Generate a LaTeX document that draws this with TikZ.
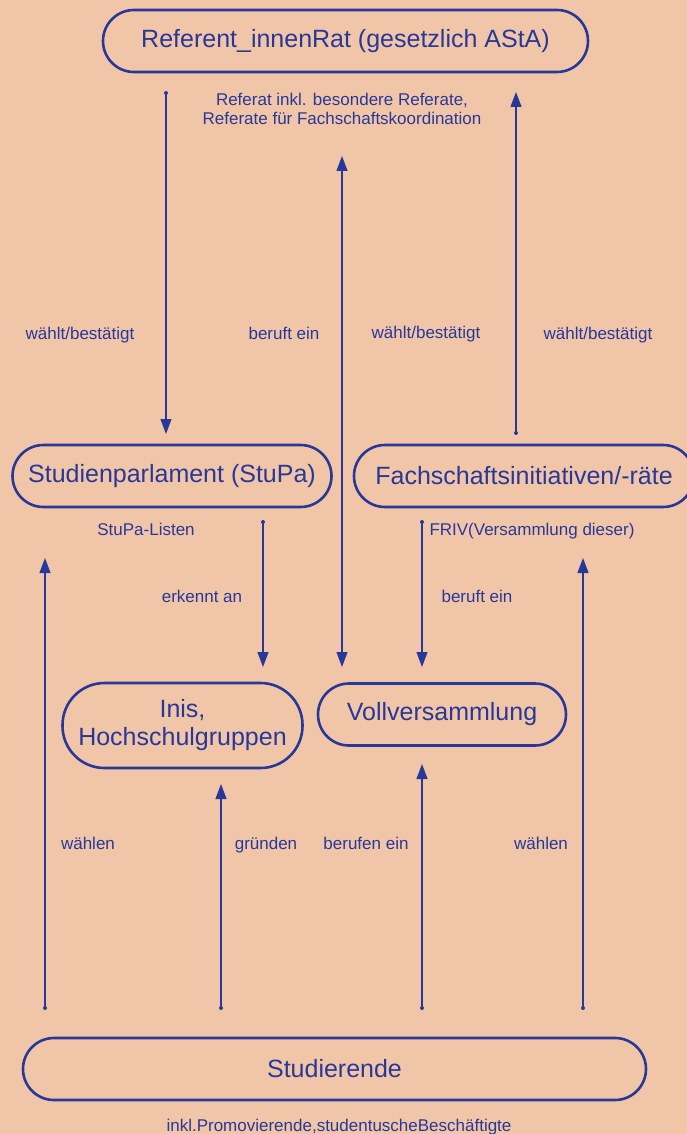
\documentclass[tikz,border=0pt]{standalone}
\usepackage{fontspec}
\setmainfont{Liberation Sans}
\usetikzlibrary{arrows.meta}
\definecolor{bg}{RGB}{241,198,168}
\definecolor{ink}{RGB}{40,56,152}
\begin{document}
\begin{tikzpicture}[x=1pt,y=-1pt,
  box/.style={draw=ink, line width=2.6pt, rounded corners=31pt, minimum height=62pt, inner sep=0pt, text=ink, font=\fontsize{25}{28}\selectfont, align=center},
  lbl/.style={text=ink, font=\fontsize{17}{19}\selectfont, align=center, inner sep=0pt},
  one/.style={lbl, text height=12.3pt, text depth=3.6pt, yshift=-2pt},
  link/.style={draw=ink, line width=1.2pt, -{Triangle[length=15pt,width=11pt]}},
  dblink/.style={draw=ink, line width=1.2pt, {Triangle[length=15pt,width=11pt]}-{Triangle[length=15pt,width=11pt]}},
  dotmark/.style={fill=ink, circle, inner sep=0pt, minimum size=4pt}]
\fill[bg] (0,0) rectangle (687,1134);
\useasboundingbox (0,0) rectangle (687,1134);
\clip (0,0) rectangle (687,1134);

% boxes
\node[box, minimum width=485pt] (rat) at (345.5,41) {Referent\_innenRat (gesetzlich AStA)};
\node[box, minimum width=319pt] (stupa) at (172,476) {Studienparlament (StuPa)};
\node[box, minimum width=340pt] (fach) at (524,476) {Fachschaftsinitiativen/-räte};
\node[box, minimum width=240pt, minimum height=85pt, rounded corners=42pt] (inis) at (182.5,725.5) {Inis,\\Hochschulgruppen};
\node[box, minimum width=248pt] (vv) at (442,714.5) {Vollversammlung};
\node[box, minimum width=623pt] (stud) at (334.5,1069) {Studierende};

% labels
\node[lbl] (lref) at (342,108.5) {Referat inkl. besondere Referate,\\Referate für Fachschaftskoordination};
\node[one] (l1) at (80,333) {wählt/bestätigt};
\node[one] (l2) at (284,333) {beruft ein};
\node[one] (l3) at (426,332) {wählt/bestätigt};
\node[one] (l4) at (598,333) {wählt/bestätigt};
\node[one] (llist) at (146,529) {StuPa-Listen};
\node[one] (lfriv) at (532,529) {FRIV(Versammlung dieser)};
\node[one] (l5) at (202,596) {erkennt an};
\node[one] (l6) at (477,596) {beruft ein};
\node[one] (l7) at (88,843) {wählen};
\node[one] (l8) at (266,843) {gründen};
\node[one] (l9) at (366,843) {berufen ein};
\node[one] (l10) at (541,843) {wählen};
\node[one] (lstud) at (339,1125) {inkl.Promovierende,studentuscheBeschäftigte};

% connector end points
\coordinate (a1s) at (166,93);   \coordinate (a1e) at (166,434);
\coordinate (a2s) at (342,156);  \coordinate (a2e) at (342,667);
\coordinate (a3s) at (516,433);  \coordinate (a3e) at (516,92);
\coordinate (a4s) at (263,522);  \coordinate (a4e) at (263,667);
\coordinate (a5s) at (422,522);  \coordinate (a5e) at (422,667);
\coordinate (a6s) at (45,1008);  \coordinate (a6e) at (45,558);
\coordinate (a7s) at (221,1008); \coordinate (a7e) at (221,784);
\coordinate (a8s) at (422,1008); \coordinate (a8e) at (422,764);
\coordinate (a9s) at (583,1008); \coordinate (a9e) at (583,558);

% connectors
\draw[link] (a1s) -- (a1e);
\draw[dblink] (a2s) -- (a2e);
\draw[link] (a3s) -- (a3e);
\draw[link] (a4s) -- (a4e);
\draw[link] (a5s) -- (a5e);
\draw[link] (a6s) -- (a6e);
\draw[link] (a7s) -- (a7e);
\draw[link] (a8s) -- (a8e);
\draw[link] (a9s) -- (a9e);

% start dots
\foreach \p in {a1s,a3s,a4s,a5s,a6s,a7s,a8s,a9s}
  \node[dotmark] at (\p) {};
\end{tikzpicture}
\end{document}
